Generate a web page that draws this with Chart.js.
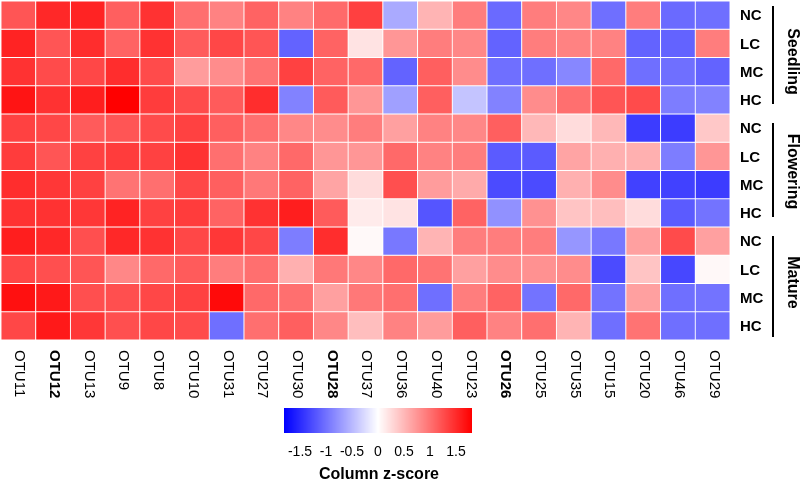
<!DOCTYPE html>
<html><head><meta charset="utf-8">
<script src="https://cdn.jsdelivr.net/npm/chart.js@4.4.0/dist/chart.umd.min.js"></script>
<style>html,body{margin:0;padding:0;background:#fff}#wrap{width:800px;height:484px;position:relative}</style>
</head><body><div id="wrap"><canvas id="c" width="800" height="484"></canvas></div>
<script>
// ---- data ----
const otus = ['OTU11','OTU12','OTU13','OTU9','OTU8','OTU10','OTU31','OTU27','OTU30','OTU28','OTU37','OTU36','OTU40','OTU23','OTU26','OTU25','OTU35','OTU15','OTU20','OTU46','OTU29'];
const boldOtus = ['OTU12','OTU28','OTU26'];
const treatments = ['NC','LC','MC','HC'];
const stages = ['Seedling','Flowering','Mature'];

const seedlingNC  = [1.20,1.52,1.55,1.13,1.45,1.02,0.88,1.10,0.88,1.05,1.35,-0.60,0.53,0.92,-1.05,0.92,0.85,-1.02,0.92,-1.05,-1.02];
const seedlingLC  = [1.55,1.20,1.48,1.10,1.45,1.16,1.30,1.20,-1.10,1.10,0.20,0.74,0.92,0.85,-1.10,0.92,0.88,0.88,-1.10,-1.10,0.92];
const seedlingMC  = [1.45,1.27,1.30,1.48,1.27,0.70,0.81,0.99,1.34,1.10,1.06,-1.10,1.13,0.81,-1.02,-1.02,-0.85,1.06,-1.02,-1.02,-1.10];
const seedlingHC  = [1.66,1.45,1.59,1.80,1.38,1.27,1.16,1.48,-0.88,1.16,0.74,-0.67,1.13,-0.42,-0.88,0.81,1.02,1.20,1.27,-0.92,-0.88];
const floweringNC = [1.34,1.30,1.16,1.20,1.27,1.34,1.13,1.02,0.85,0.81,0.92,0.67,0.88,0.85,1.13,0.50,0.25,0.50,-1.38,-1.38,0.39];
const floweringLC = [1.38,1.20,1.34,1.38,1.34,1.45,1.02,0.88,1.06,0.74,0.74,1.06,0.88,0.92,-1.16,-1.16,0.64,0.56,0.56,-0.92,0.74];
const floweringMC = [1.48,1.41,1.34,0.99,1.02,1.30,1.13,0.95,1.10,0.64,0.25,1.24,0.70,0.60,-1.27,-1.27,0.56,0.81,-1.34,-1.34,-1.38];
const floweringHC = [1.45,1.45,1.41,1.55,1.34,1.38,1.10,1.45,1.59,1.16,0.14,0.20,-1.20,1.10,-0.78,0.78,0.42,0.46,0.25,-1.16,-0.99];
const matureNC    = [1.59,1.52,1.24,1.52,1.45,1.30,1.41,1.30,-0.92,1.48,0.04,-0.95,0.53,0.92,0.92,0.92,-0.74,-0.95,0.67,1.27,0.67];
const matureLC    = [1.30,1.24,1.20,0.85,1.06,1.16,0.92,1.02,0.56,0.95,0.85,1.06,0.99,0.67,0.81,0.78,0.81,-1.27,0.42,-1.30,0.05];
const matureMC    = [1.69,1.62,1.24,1.24,1.30,1.34,1.73,1.06,1.02,0.67,0.95,1.02,-1.02,0.92,1.10,-0.99,1.06,-0.99,0.67,-1.02,-0.99];
const matureHC    = [1.30,1.62,1.41,1.24,1.30,1.27,-1.02,1.02,1.13,0.85,0.46,0.88,0.70,1.13,0.88,1.02,0.53,-1.02,0.99,-1.02,-1.02];

const legendTicks = [-1.5,-1,-0.5,0,0.5,1,1.5];
const zLimit = 1.8;

// ---- build ----
const rows = [seedlingNC,seedlingLC,seedlingMC,seedlingHC,floweringNC,floweringLC,floweringMC,floweringHC,matureNC,matureLC,matureMC,matureHC];
const rowLabels = [];
stages.forEach(s => treatments.forEach(t => rowLabels.push(t)));

function zColor(v){
  const f = Math.max(-1, Math.min(1, v / zLimit));
  if (f >= 0){ const g = Math.round(255*(1-f)); return `rgb(255,${g},${g})`; }
  const c = Math.round(255*(1+f)); return `rgb(${c},${c},255)`;
}

const datasets = rows.map((r,i) => ({
  label: rowLabels[i],
  data: r.map(() => 1),
  backgroundColor: r.map(zColor),
  borderColor: '#ffffff',
  borderWidth: 0.8,
  borderSkipped: false,
  barPercentage: 1,
  categoryPercentage: 1,
  stack: 's'
}));

const FONT = '"Liberation Sans", Arial, sans-serif';

const labelPlugin = {
  id: 'labels',
  afterDraw(chart){
    const ctx = chart.ctx;
    const xs = chart.scales.x, ys = chart.scales.y;
    ctx.save();
    ctx.fillStyle = '#000';
    // column labels (rotated clockwise)
    otus.forEach((o,i) => {
      const x = xs.getPixelForValue(i);
      ctx.save();
      ctx.translate(x+1, 350);
      ctx.rotate(Math.PI/2);
      ctx.font = (boldOtus.includes(o) ? 'bold ' : '') + '15px ' + FONT;
      ctx.textAlign = 'left';
      ctx.textBaseline = 'middle';
      ctx.fillText(o, 0, 0);
      ctx.restore();
    });
    // row labels
    ctx.font = 'bold 15px ' + FONT;
    ctx.textAlign = 'left';
    ctx.textBaseline = 'middle';
    rowLabels.forEach((l,i) => {
      const y = ys.getPixelForValue(i+0.5);
      ctx.fillText(l, 740, y+1);
    });
    // group brackets + labels
    const labelShift = [4, 1, -1];
    stages.forEach((s,g) => {
      const y0 = ys.getPixelForValue(g*4) + (g===0 ? 5 : 9);
      const y1 = ys.getPixelForValue(g*4+4) - (g===2 ? 3 : 10);
      ctx.fillRect(772, y0, 2, y1-y0);
      const yc = ys.getPixelForValue(g*4+2) + labelShift[g];
      ctx.save();
      ctx.translate(792, yc);
      ctx.rotate(Math.PI/2);
      ctx.font = 'bold 16px ' + FONT;
      ctx.textAlign = 'center';
      ctx.textBaseline = 'middle';
      ctx.fillText(s, 0, 0);
      ctx.restore();
    });
    // colour key
    const cx0 = 378, unit = 52, by0 = 408, by1 = 433;
    const bx0 = Math.round(cx0 - zLimit*unit), bx1 = Math.round(cx0 + zLimit*unit);
    for (let px = bx0; px < bx1; px++){
      const v = ((px + 0.5) - cx0) / unit;
      ctx.fillStyle = zColor(v);
      ctx.fillRect(px, by0, 1, by1-by0);
    }
    ctx.fillStyle = '#000';
    ctx.font = '14px ' + FONT;
    ctx.textAlign = 'center';
    ctx.textBaseline = 'middle';
    legendTicks.forEach(t => ctx.fillText(String(t), cx0 + t*unit, 452));
    ctx.font = 'bold 16px ' + FONT;
    ctx.fillText('Column z-score', 379, 475);
    ctx.restore();
  }
};

new Chart(document.getElementById('c'), {
  type: 'bar',
  data: { labels: otus, datasets },
  options: {
    responsive: false,
    animation: false,
    devicePixelRatio: 1,
    layout: { padding: { left: 1, right: 70, top: 1, bottom: 144 } },
    plugins: { legend: { display: false }, tooltip: { enabled: false } },
    scales: {
      x: { display: false, stacked: true, grid: { display: false } },
      y: { display: false, stacked: true, min: 0, max: 12, reverse: true, grid: { display: false } }
    }
  },
  plugins: [labelPlugin]
});
</script></body></html>
